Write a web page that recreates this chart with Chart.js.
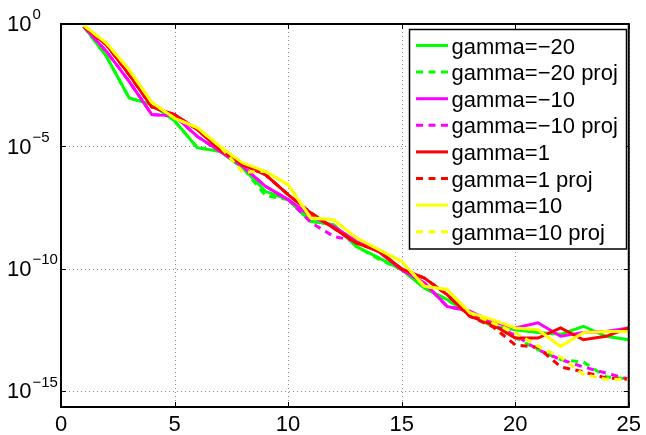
<!DOCTYPE html>
<html>
<head>
<meta charset="utf-8">
<script src="https://cdn.jsdelivr.net/npm/chart.js@4.4.1/dist/chart.umd.min.js"></script>
<style>
  html, body { margin: 0; padding: 0; background: #fff; }
  #wrap { width: 646px; height: 435px; }
</style>
</head>
<body>
<div id="wrap"><canvas id="chart" width="646" height="435"></canvas></div>
<script>
// iteration number (x) and tick positions
const iterations = [1, 2, 3, 4, 5, 6, 7, 8, 9, 10, 11, 12, 13, 14, 15, 16, 17, 18, 19, 20, 21, 22, 23, 24, 25];
const xTicks = [0, 5, 10, 15, 20, 25];
const yTickExponents = [0, -5, -10, -15];

// error values, stored as log10 exponents
const gm20 = [-0.1, -1.32, -3.02, -3.29, -3.95, -5.05, -5.2, -5.87, -6.83, -7.17, -8.06, -8.19, -9.08, -9.55, -10.03, -10.78, -11.25, -11.86, -12.34, -12.48, -12.6, -12.67, -12.34, -12.75, -12.89];
const gm20proj = [-0.1, -1.32, -3.02, -3.29, -3.95, -5.05, -5.2, -5.87, -7.0, -7.17, -8.06, -8.19, -9.08, -9.6, -10.03, -10.78, -11.25, -11.86, -12.3, -12.8, -13.3, -13.7, -13.8, -14.4, -14.5];
const gm10 = [-0.1, -1.12, -2.34, -3.7, -3.75, -4.59, -5.2, -5.81, -6.63, -7.17, -7.85, -8.26, -8.87, -9.3, -10.03, -10.57, -11.53, -11.73, -12.15, -12.41, -12.2, -12.75, -12.6, -12.55, -12.41];
const gm10proj = [-0.1, -1.12, -2.34, -3.7, -3.75, -4.59, -5.2, -5.81, -6.63, -7.17, -8.1, -8.67, -8.87, -9.3, -10.03, -10.57, -11.53, -11.73, -12.3, -12.7, -13.3, -13.7, -14.0, -14.25, -14.5];
const g1 = [-0.1, -0.85, -2.07, -3.39, -3.7, -4.31, -5.13, -5.74, -6.15, -6.97, -7.71, -8.33, -8.94, -9.28, -10.0, -10.37, -11.05, -11.93, -12.27, -12.82, -12.82, -12.41, -12.89, -12.75, -12.41];
const g1proj = [-0.1, -0.85, -2.07, -3.39, -3.7, -4.31, -5.13, -5.74, -6.15, -6.97, -7.71, -8.33, -8.94, -9.28, -10.0, -10.37, -11.05, -11.93, -12.35, -13.1, -13.2, -14.0, -14.2, -14.45, -14.5];
const g10 = [-0.05, -0.78, -1.87, -3.2, -3.85, -4.23, -5.0, -5.67, -6.02, -6.56, -7.92, -7.99, -8.73, -9.21, -9.69, -10.71, -10.84, -11.79, -12.07, -12.41, -12.48, -13.16, -12.6, -12.55, -12.55];
const g10proj = [-0.05, -0.78, -1.87, -3.2, -3.85, -4.23, -5.0, -6.05, -6.02, -6.56, -7.92, -7.99, -8.73, -9.21, -9.69, -10.71, -10.84, -11.79, -12.2, -12.6, -13.15, -13.6, -14.3, -14.5, -14.5];

const seriesLabels = ["gamma=\u221220", "gamma=\u221220 proj", "gamma=\u221210", "gamma=\u221210 proj",
  "gamma=1", "gamma=1 proj", "gamma=10", "gamma=10 proj"];
const seriesData = [gm20, gm20proj, gm10, gm10proj, g1, g1proj, g10, g10proj];
const seriesColors = ["#00ff00", "#00ff00", "#ff00ff", "#ff00ff", "#ff0000", "#ff0000", "#ffff00", "#ffff00"];

const FONT = "'Liberation Sans', Arial, sans-serif";
const DASH = [7, 5.5];

const datasets = seriesData.map((logs, i) => ({
  label: seriesLabels[i],
  data: iterations.map((it, j) => ({ x: it, y: Math.pow(10, logs[j]) })),
  borderColor: seriesColors[i],
  borderWidth: 3,
  borderDash: i % 2 ? DASH : [],
  pointRadius: 0,
  tension: 0,
  fill: false,
  order: seriesData.length - i, // later series on top, like MATLAB
}));

// grid, box, inner ticks, superscript y labels and the legend box
const matlabAxes = {
  id: "matlabAxes",
  beforeDatasetsDraw(chart) {
    const { ctx, chartArea: a, scales: { x, y } } = chart;
    ctx.save();
    ctx.strokeStyle = "rgba(0,0,0,0.45)";
    ctx.lineWidth = 1;
    ctx.setLineDash([1, 3]);
    xTicks.forEach((v) => {
      const px = Math.round(x.getPixelForValue(v)) + 0.5;
      ctx.beginPath();
      ctx.moveTo(px, a.top);
      ctx.lineTo(px, a.bottom);
      ctx.stroke();
    });
    yTickExponents.forEach((e) => {
      const py = Math.round(y.getPixelForValue(Math.pow(10, e))) + 0.5;
      ctx.beginPath();
      ctx.moveTo(a.left, py);
      ctx.lineTo(a.right, py);
      ctx.stroke();
    });
    ctx.restore();
  },
  afterDraw(chart) {
    const { ctx, chartArea: a, scales: { x, y } } = chart;
    ctx.save();

    // axes box
    ctx.strokeStyle = "#000";
    ctx.lineWidth = 2;
    ctx.strokeRect(a.left, a.top, a.right - a.left, a.bottom - a.top);

    // inward tick marks
    ctx.lineWidth = 1;
    ctx.beginPath();
    xTicks.forEach((v) => {
      const px = Math.round(x.getPixelForValue(v)) + 0.5;
      ctx.moveTo(px, a.bottom); ctx.lineTo(px, a.bottom - 5);
      ctx.moveTo(px, a.top); ctx.lineTo(px, a.top + 5);
    });
    yTickExponents.forEach((e) => {
      const py = Math.round(y.getPixelForValue(Math.pow(10, e))) + 0.5;
      ctx.moveTo(a.left, py); ctx.lineTo(a.left + 5, py);
      ctx.moveTo(a.right, py); ctx.lineTo(a.right - 5, py);
    });
    ctx.stroke();

    // y tick labels 10^e
    ctx.fillStyle = "#000";
    ctx.textBaseline = "middle";
    ctx.textAlign = "left";
    yTickExponents.forEach((e) => {
      const py = y.getPixelForValue(Math.pow(10, e));
      ctx.font = "22px " + FONT;
      ctx.fillText("10", 7, py + 1);
      const w = ctx.measureText("10").width;
      ctx.font = "15px " + FONT;
      ctx.fillText(e === 0 ? "0" : "\u2212" + Math.abs(e), 7 + w + 1, py - 9);
    });

    // legend
    const lx = 409.5, ly = 29.5, lw = 217, lh = 219.5;
    ctx.fillStyle = "#fff";
    ctx.fillRect(lx, ly, lw, lh);
    ctx.strokeStyle = "#000";
    ctx.lineWidth = 1.5;
    ctx.strokeRect(lx, ly, lw, lh);
    ctx.font = "22px " + FONT;
    seriesLabels.forEach((label, i) => {
      const cy = 46.5 + i * 26.6;
      ctx.strokeStyle = seriesColors[i];
      ctx.lineWidth = 3;
      ctx.setLineDash(i % 2 ? DASH : []);
      ctx.beginPath();
      ctx.moveTo(416, cy - 1);
      ctx.lineTo(448, cy - 1);
      ctx.stroke();
      ctx.setLineDash([]);
      ctx.fillStyle = "#000";
      ctx.fillText(label, 451.5, cy + 1);
    });
    ctx.restore();
  },
};

const ctx = document.getElementById("chart").getContext("2d");
const chart = new Chart(ctx, {
  type: "line",
  data: { datasets },
  options: {
    responsive: false,
    animation: false,
    devicePixelRatio: 1,
    layout: { padding: { left: 0, right: 14, top: 24, bottom: 0 } },
    plugins: {
      legend: { display: false },
      tooltip: { enabled: false },
    },
    scales: {
      x: {
        type: "linear",
        min: 0,
        max: 25,
        afterBuildTicks: (s) => { s.ticks = xTicks.map((v) => ({ value: v })); },
        afterFit: (s) => { s.height = 28; },
        grid: { display: false, drawTicks: false },
        border: { display: false },
        ticks: {
          color: "#000",
          font: { family: FONT, size: 22 },
          padding: 5,
          maxRotation: 0,
          autoSkip: false,
        },
      },
      y: {
        type: "logarithmic",
        min: Math.pow(10, -15.637),
        max: 1,
        afterBuildTicks: (s) => { s.ticks = yTickExponents.map((e) => ({ value: Math.pow(10, e) })); },
        afterFit: (s) => { s.width = 61; },
        grid: { display: false, drawTicks: false },
        border: { display: false },
        ticks: { display: false },
      },
    },
  },
  plugins: [matlabAxes],
});
</script>
</body>
</html>
